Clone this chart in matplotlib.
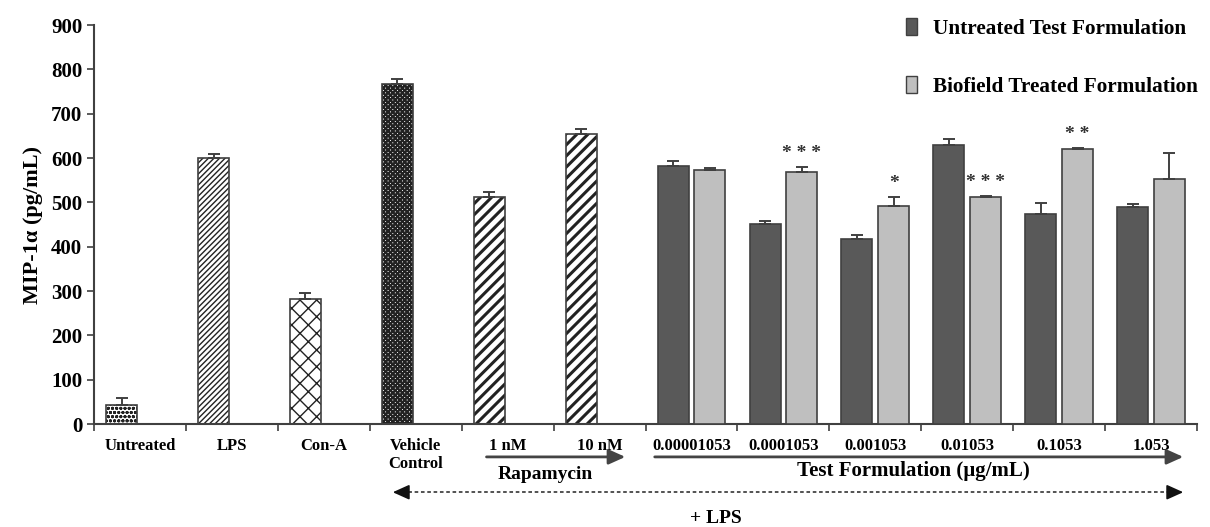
import numpy as np
import matplotlib
matplotlib.use("Agg")
import matplotlib.pyplot as plt
import matplotlib.transforms as mtransforms
from matplotlib.patches import Patch

# === datos ===
etiquetas = ['Untreated', 'LPS', 'Con-A', 'Vehicle\nControl', '1 nM', '10 nM',
             '0.00001053', '0.0001053', '0.001053', '0.01053', '0.1053', '1.053']

controles = [43, 600, 283, 767, 512, 654]
controles_err = [15, 9, 12, 12, 12, 12]

sin_tratar = [581, 451, 417, 629, 473, 489]
sin_tratar_err = [12, 6, 10, 13, 26, 8]

biofield = [572, 569, 492, 511, 621, 553]
biofield_err = [6, 10, 19, 3, 2, 59]

estrellas = ['', '* * *', '*', '* * *', '* *', '']

plt.rcParams['font.family'] = ['Liberation Serif', 'DejaVu Serif']
plt.rcParams['font.weight'] = 'bold'
plt.rcParams['axes.labelweight'] = 'bold'

fig = plt.figure(figsize=(12.1, 5.27), dpi=100)
ax = fig.add_axes([0.0777, 0.1954, 0.9116, 0.7571])

ancho = 0.337
desp = 0.2
x = np.arange(len(etiquetas))
borde = '#404040'
err_kw = dict(ecolor='#404040', elinewidth=1.4, capsize=4.5, capthick=1.4)

# barras de control (con tramas)
tramas = ['oooo', '//////', 'xx', 'xxxxxxx', '///', '///']
grosor = [1.0, 1.0, 1.0, 1.6, 2.2, 2.2]
for i in range(6):
    lo = np.array([[0], [controles_err[i]]])
    b = ax.bar(x[i] - desp, controles[i], ancho, color='white', edgecolor='#222222',
               hatch=tramas[i], linewidth=0.0, zorder=2)
    try:
        b[0].set_hatch_linewidth(grosor[i])
    except Exception:
        pass
    ax.bar(x[i] - desp, controles[i], ancho, color='none', edgecolor=borde,
           linewidth=1.2, yerr=lo, error_kw=err_kw, zorder=3)

# formulacion de prueba
xt = x[6:]
ax.bar(xt - desp, sin_tratar, ancho, color='#595959', edgecolor=borde, linewidth=1.2,
       yerr=[np.zeros(6), sin_tratar_err], error_kw=err_kw, zorder=3)
ax.bar(xt + desp, biofield, ancho, color='#bfbfbf', edgecolor=borde, linewidth=1.2,
       yerr=[np.zeros(6), biofield_err], error_kw=err_kw, zorder=3)

for i, s in enumerate(estrellas):
    if s:
        ax.text(xt[i] + desp, biofield[i] + biofield_err[i] + 12, s, ha='center',
                va='bottom', fontsize=14, color='#333333')

ax.set_xlim(-0.5, 11.5)
ax.set_ylim(0, 900)
ax.set_yticks(np.arange(0, 901, 100))
ax.tick_params(axis='y', labelsize=15, length=5, width=1.2, color='#404040', direction='out')
ax.set_xticks(x)
ax.set_xticklabels(etiquetas, fontsize=12)
ax.set_xticks(np.arange(-0.5, 12, 1), minor=True)
ax.tick_params(axis='x', which='major', length=0, pad=10)
ax.tick_params(axis='x', which='minor', length=5, width=1.2, color='#404040', direction='out')
for sp in ['top', 'right']:
    ax.spines[sp].set_visible(False)
for sp in ['left', 'bottom']:
    ax.spines[sp].set_color('#404040')
    ax.spines[sp].set_linewidth(1.5)

ax.set_ylabel('MIP-1α (pg/mL)', fontsize=16, labelpad=6)

# flechas y textos bajo el eje
tr = mtransforms.blended_transform_factory(ax.transData, fig.transFigure)
flecha = dict(arrowstyle='-|>,head_length=1.0,head_width=0.45', color='#444444',
              lw=2, shrinkA=0, shrinkB=0)
ax.annotate('', xy=(5.28, 0.133), xytext=(3.77, 0.133), xycoords=tr, textcoords=tr,
            arrowprops=flecha, annotation_clip=False)
ax.annotate('', xy=(11.35, 0.133), xytext=(5.6, 0.133), xycoords=tr, textcoords=tr,
            arrowprops=flecha, annotation_clip=False)
ax.text(4.41, 0.100, 'Rapamycin', transform=tr, ha='center', va='center', fontsize=14)
ax.text(8.41, 0.106, 'Test Formulation (µg/mL)', transform=tr, ha='center', va='center',
        fontsize=15)

ax.plot([2.85, 11.25], [0.066, 0.066], transform=tr, color='#444444', lw=1.3,
        ls=(0, (2, 1.5)), clip_on=False)
cabeza = dict(arrowstyle='-|>,head_length=1.0,head_width=0.45', color='#111111',
              lw=1.3, shrinkA=0, shrinkB=0)
ax.annotate('', xy=(11.35, 0.066), xytext=(11.2, 0.066), xycoords=tr, textcoords=tr,
            arrowprops=cabeza, annotation_clip=False)
ax.annotate('', xy=(2.75, 0.066), xytext=(2.9, 0.066), xycoords=tr, textcoords=tr,
            arrowprops=cabeza, annotation_clip=False)
ax.text(6.27, 0.017, '+ LPS', transform=tr, ha='center', va='center', fontsize=14)

# leyenda
manejadores = [Patch(facecolor='#595959', edgecolor=borde, label='Untreated Test Formulation'),
               Patch(facecolor='#bfbfbf', edgecolor=borde, label='Biofield Treated Formulation')]
fig.legend(handles=manejadores, loc='upper left', bbox_to_anchor=(0.733, 1.002),
           frameon=False, fontsize=15.3, handlelength=0.5, handleheight=0.85,
           handletextpad=0.75, labelspacing=1.75)

fig.savefig('out.png', dpi=100)
